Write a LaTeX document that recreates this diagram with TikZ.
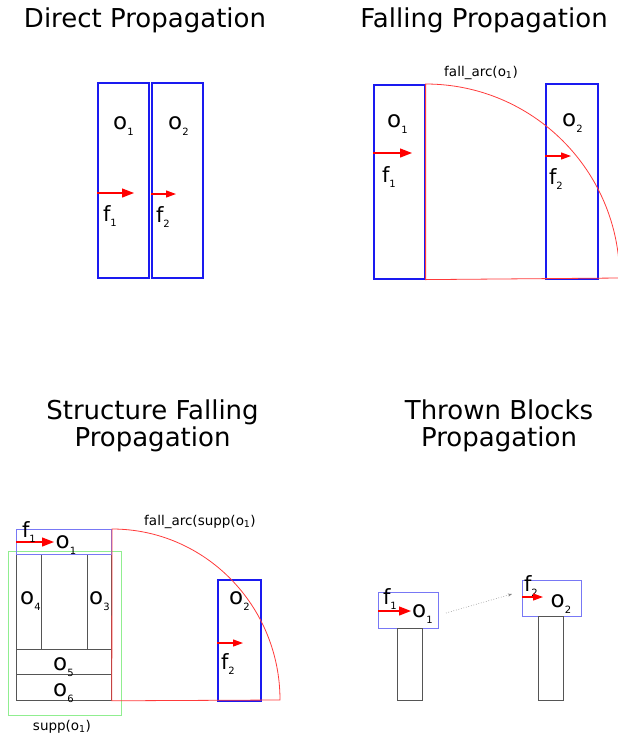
\documentclass[tikz,border=0pt]{standalone}
\usepackage{fontspec}
\setmainfont{DejaVu Sans}
\usetikzlibrary{arrows.meta}
\definecolor{rblue}{HTML}{1A1AF0}
\definecolor{lblue}{HTML}{7878F5}
\definecolor{lgreen}{HTML}{90EE90}
\definecolor{rred}{HTML}{FF3A3A}
\definecolor{sgray}{HTML}{555555}
\newcommand\subs[1]{\raisebox{-0.25em}{\fontsize{10}{10}\selectfont #1}}
\newcommand\ofont{\fontsize{23}{23}\selectfont}
\newcommand\ffont{\fontsize{21}{21}\selectfont}
\newcommand\ttlfont{\fontsize{26}{27}\selectfont}
\newcommand\smlfont{\fontsize{13.5}{14}\selectfont}
\tikzset{
  lblk/.style={draw=lblue, line width=1pt, inner sep=0},
  gblk/.style={draw=sgray, line width=0.8pt, inner sep=0},
  bblk/.style={draw=rblue, line width=1.6pt, inner sep=0},
  suppbox/.style={draw=lgreen, line width=1pt, inner sep=0},
  force/.style={draw=red, line width=1.3pt, -{Triangle[length=12pt,width=9pt]}},
  sforce/.style={draw=red, line width=1.2pt, -{Triangle[length=10pt,width=7pt]}},
  arcline/.style={draw=rred, line width=0.8pt},
  olab/.style={inner sep=0, anchor=base west, font=\ofont, xshift=-7pt, yshift=-6.4pt},
  flab/.style={inner sep=0, anchor=base west, font=\ffont, xshift=-4.2pt, yshift=-8pt},
  ttl/.style={inner sep=0, font=\ttlfont, align=center},
  sml/.style={inner sep=0, font=\smlfont},
}
\begin{document}
\begin{tikzpicture}[x=1pt,y=-1pt]
\useasboundingbox (0,0) rectangle (618,740);
% ---------- Panel 1: Direct Propagation ----------
\node[ttl, anchor=base] (t1) at (145,27) {Direct Propagation};
\node[bblk, minimum width=51pt, minimum height=195pt, anchor=north west] (a1) at (97,82) {};
\node[bblk, minimum width=51pt, minimum height=195pt, anchor=north west] (a2) at (151,82) {};
\node[olab] (ao1) at (120,123) {o\subs{1}};
\node[olab] (ao2) at (175,123) {o\subs{2}};
\coordinate (af1e) at (134,193);
\coordinate (af2e) at (176,194);
\draw[force] (a1.west |- af1e) -- (af1e);
\draw[sforce] (a2.west |- af2e) -- (af2e);
\node[flab] (af1) at (107,213) {f\subs{1}};
\node[flab] (af2) at (160,214) {f\subs{2}};
% ---------- Panel 2: Falling Propagation ----------
\node[ttl, anchor=base] (t2) at (484,27) {Falling Propagation};
\node[bblk, minimum width=51pt, minimum height=194pt, anchor=north west] (b1) at (373,84) {};
\node[bblk, minimum width=52pt, minimum height=195pt, anchor=north west] (b2) at (545,83) {};
\draw[arcline] (b1.north east) arc[start angle=-90, end angle=0, radius=194] -- (b1.south east) -- cycle;
\node[sml] (barc) at (481,73) {fall\_arc(o\textsubscript{1})};
\node[olab] (bo1) at (394,121) {o\subs{1}};
\node[olab] (bo2) at (569,120) {o\subs{2}};
\coordinate (bf1e) at (412,153);
\coordinate (bf2e) at (571,156);
\draw[force] (b1.west |- bf1e) -- (bf1e);
\draw[sforce] (b2.west |- bf2e) -- (bf2e);
\node[flab] (bf1) at (386,174) {f\subs{1}};
\node[flab] (bf2) at (553,176) {f\subs{2}};
% ---------- Panel 3: Structure Falling Propagation ----------
\node[ttl, anchor=north] (t3) at (152.5,400) {Structure Falling\\Propagation};
\node[suppbox, minimum width=113pt, minimum height=164pt, anchor=north west] (supp) at (8,551) {};
\node[gblk, minimum width=25pt, minimum height=95pt, anchor=north west] (c4) at (16,554) {};
\node[gblk, minimum width=24pt, minimum height=95pt, anchor=north west] (c3) at (87,554) {};
\node[gblk, minimum width=95pt, minimum height=25pt, anchor=north west] (c5) at (16,649) {};
\node[gblk, minimum width=95pt, minimum height=26pt, anchor=north west] (c6) at (16,674) {};
\node[lblk, minimum width=95pt, minimum height=25pt, anchor=north west] (c1) at (16,529) {};
\node[bblk, minimum width=43pt, minimum height=121pt, anchor=north west] (c2) at (217,579) {};
\draw[arcline] (c1.north east) arc[start angle=-90, end angle=0, x radius=168, y radius=171] -- (c6.south east) -- cycle;
\node[sml] (carc) at (200,522) {fall\_arc(supp(o\textsubscript{1})};
\node[sml] (csupp) at (62,727) {supp(o\textsubscript{1})};
\node[olab] (co1) at (62.5,542) {o\subs{1}};
\node[olab] (co4) at (27,598) {o\subs{4}};
\node[olab] (co3) at (96,598) {o\subs{3}};
\node[olab] (co5) at (60,664) {o\subs{5}};
\node[olab] (co6) at (60,690) {o\subs{6}};
\node[olab] (co2) at (236,598) {o\subs{2}};
\coordinate (cf1e) at (54,542);
\coordinate (cf2e) at (243,643);
\draw[force] (c1.west |- cf1e) -- (cf1e);
\draw[sforce] (c2.west |- cf2e) -- (cf2e);
\node[flab] (cf1) at (26,529) {f\subs{1}};
\node[flab] (cf2) at (225,661) {f\subs{2}};
% ---------- Panel 4: Thrown Blocks Propagation ----------
\node[ttl, anchor=north] (t4) at (499,400) {Thrown Blocks\\Propagation};
\node[lblk, minimum width=60pt, minimum height=36pt, anchor=north west] (d1) at (378,592) {};
\node[gblk, minimum width=25pt, minimum height=72pt, anchor=north west] (d1s) at (397,628) {};
\node[lblk, minimum width=59pt, minimum height=36pt, anchor=north west] (d2) at (522,580) {};
\node[gblk, minimum width=25pt, minimum height=84pt, anchor=north west] (d2s) at (538,616) {};
\node[olab] (do1) at (419,611) {o\subs{1}};
\node[olab] (do2) at (557.5,601) {o\subs{2}};
\node[flab] (df1) at (387,596) {f\subs{1}};
\node[flab] (df2) at (528,583) {f\subs{2}};
\coordinate (df1e) at (411,611);
\coordinate (df2e) at (543,597);
\draw[force] (d1.west |- df1e) -- (df1e);
\draw[sforce] (d2.west |- df2e) -- (df2e);
\coordinate (thr1) at (446,613);
\coordinate (thr2) at (512,594);
\draw[gray, line width=0.6pt, dotted, -{Stealth[length=4pt,width=3pt]}] (thr1) -- (thr2);
\end{tikzpicture}
\end{document}
